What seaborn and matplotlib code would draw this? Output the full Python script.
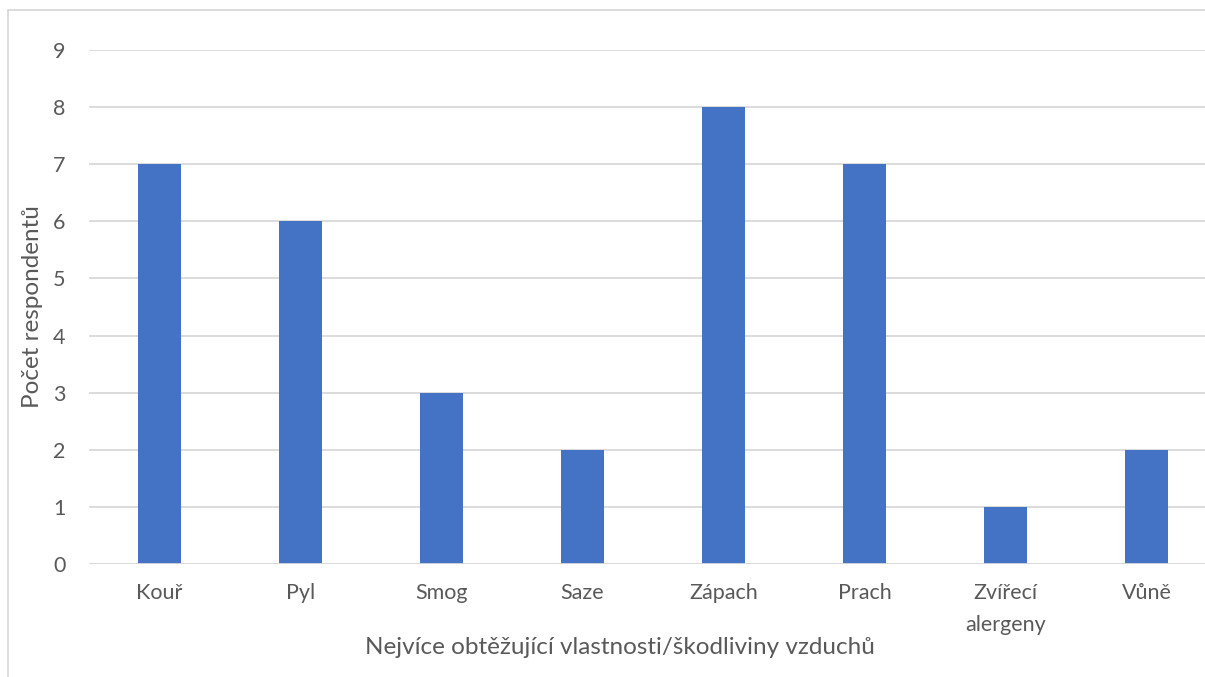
import matplotlib
matplotlib.use("Agg")
import matplotlib.pyplot as plt
import seaborn as sns
import pandas as pd
from matplotlib.lines import Line2D

categories = ["Kouř", "Pyl", "Smog", "Saze", "Zápach", "Prach", "Zvířecí\nalergeny", "Vůně"]
counts = [7, 6, 3, 2, 8, 7, 1, 2]
y_ticks = list(range(0, 10))

sns.set_theme(style="white")
plt.rcParams["font.family"] = ["Lato", "DejaVu Sans"]

text_color = "#595959"
grid_color = "#D9D9D9"
bar_color = "#4472C4"

df = pd.DataFrame({"kategorie": categories, "pocet": counts})

fig = plt.figure(figsize=(12.05, 6.77), dpi=100)
ax = fig.add_axes([0.0739, 0.1669, 0.9361, 0.7592])

sns.barplot(data=df, x="kategorie", y="pocet", color=bar_color, width=0.31,
            saturation=1, linewidth=0, ax=ax, zorder=3)

ax.set_xlim(-0.5, len(categories) - 0.5)
ax.set_ylim(0, 9)
ax.set_yticks(y_ticks)
ax.set_yticklabels([str(v) for v in y_ticks])
ax.yaxis.grid(True, color=grid_color, linewidth=1.3, zorder=0)
ax.xaxis.grid(False)
for s in ax.spines.values():
    s.set_visible(False)
ax.axhline(0, color=grid_color, linewidth=1.3, zorder=4)

ax.tick_params(axis="both", length=0, colors=text_color, labelsize=15.5)
ax.tick_params(axis="y", pad=17)
ax.tick_params(axis="x", pad=13.5)
for lbl in ax.get_xticklabels():
    lbl.set_linespacing(1.75)

ax.set_xlabel("Nejvíce obtěžující vlastnosti/škodliviny vzduchů", fontsize=17.5,
              color=text_color)
ax.xaxis.set_label_coords(0.4707, -0.1615)
ax.xaxis.label.set_va("center")
ax.set_ylabel("Počet respondentů", fontsize=17.5, color=text_color, labelpad=7)

# chart area frame (left and top edges)
fig.add_artist(Line2D([8 / 1205, 8 / 1205], [0, 1 - 10 / 677], color=grid_color,
                      linewidth=1.3, transform=fig.transFigure))
fig.add_artist(Line2D([8 / 1205, 1], [1 - 10 / 677, 1 - 10 / 677], color=grid_color,
                      linewidth=1.3, transform=fig.transFigure))

fig.savefig("out.png", dpi=100)
